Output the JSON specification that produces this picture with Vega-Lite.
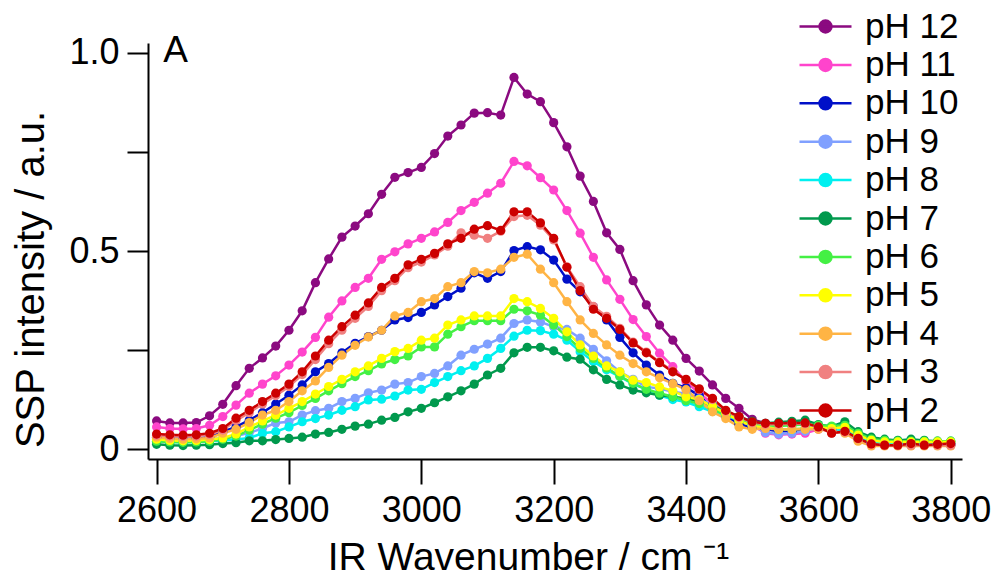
{
  "$schema": "https://vega.github.io/schema/vega-lite/v6.json",
  "width": 814,
  "height": 416,
  "autosize": {"type": "none"},
  "padding": {"left": 148, "top": 43, "right": 40, "bottom": 118},
  "background": "white",
  "config": {"view": {"stroke": null}, "font": "Liberation Sans"},
  "data": {"values": [
{"p":"pH 12","x":2600,"y":0.071},{"p":"pH 12","x":2620,"y":0.066},{"p":"pH 12","x":2640,"y":0.066},{"p":"pH 12","x":2660,"y":0.067},{"p":"pH 12","x":2680,"y":0.084},{"p":"pH 12","x":2700,"y":0.113},{"p":"pH 12","x":2720,"y":0.16},{"p":"pH 12","x":2740,"y":0.204},{"p":"pH 12","x":2760,"y":0.23},{"p":"pH 12","x":2780,"y":0.26},{"p":"pH 12","x":2800,"y":0.30},{"p":"pH 12","x":2820,"y":0.349},{"p":"pH 12","x":2840,"y":0.42},{"p":"pH 12","x":2860,"y":0.48},{"p":"pH 12","x":2880,"y":0.535},{"p":"pH 12","x":2900,"y":0.563},{"p":"pH 12","x":2920,"y":0.594},{"p":"pH 12","x":2940,"y":0.643},{"p":"pH 12","x":2960,"y":0.686},{"p":"pH 12","x":2980,"y":0.698},{"p":"pH 12","x":3000,"y":0.711},{"p":"pH 12","x":3020,"y":0.746},{"p":"pH 12","x":3040,"y":0.79},{"p":"pH 12","x":3060,"y":0.818},{"p":"pH 12","x":3080,"y":0.848},{"p":"pH 12","x":3100,"y":0.849},{"p":"pH 12","x":3120,"y":0.843},{"p":"pH 12","x":3140,"y":0.938},{"p":"pH 12","x":3160,"y":0.896},{"p":"pH 12","x":3180,"y":0.877},{"p":"pH 12","x":3200,"y":0.824},{"p":"pH 12","x":3220,"y":0.763},{"p":"pH 12","x":3240,"y":0.689},{"p":"pH 12","x":3260,"y":0.625},{"p":"pH 12","x":3280,"y":0.546},{"p":"pH 12","x":3300,"y":0.504},{"p":"pH 12","x":3320,"y":0.425},{"p":"pH 12","x":3340,"y":0.364},{"p":"pH 12","x":3360,"y":0.313},{"p":"pH 12","x":3380,"y":0.275},{"p":"pH 12","x":3400,"y":0.229},{"p":"pH 12","x":3420,"y":0.197},{"p":"pH 12","x":3440,"y":0.162},{"p":"pH 12","x":3460,"y":0.128},{"p":"pH 12","x":3480,"y":0.103},{"p":"pH 12","x":3500,"y":0.075},{"p":"pH 12","x":3520,"y":0.065},{"p":"pH 12","x":3540,"y":0.063},{"p":"pH 12","x":3560,"y":0.062},{"p":"pH 12","x":3580,"y":0.062},{"p":"pH 12","x":3600,"y":0.058},{"p":"pH 12","x":3620,"y":0.05},{"p":"pH 12","x":3640,"y":0.045},{"p":"pH 12","x":3660,"y":0.03},{"p":"pH 12","x":3680,"y":0.015},{"p":"pH 12","x":3700,"y":0.012},{"p":"pH 12","x":3720,"y":0.012},{"p":"pH 12","x":3740,"y":0.013},{"p":"pH 12","x":3760,"y":0.012},{"p":"pH 12","x":3780,"y":0.012},{"p":"pH 12","x":3800,"y":0.013},
{"p":"pH 11","x":2600,"y":0.056},{"p":"pH 11","x":2620,"y":0.052},{"p":"pH 11","x":2640,"y":0.051},{"p":"pH 11","x":2660,"y":0.052},{"p":"pH 11","x":2680,"y":0.06},{"p":"pH 11","x":2700,"y":0.082},{"p":"pH 11","x":2720,"y":0.111},{"p":"pH 11","x":2740,"y":0.141},{"p":"pH 11","x":2760,"y":0.164},{"p":"pH 11","x":2780,"y":0.185},{"p":"pH 11","x":2800,"y":0.212},{"p":"pH 11","x":2820,"y":0.245},{"p":"pH 11","x":2840,"y":0.282},{"p":"pH 11","x":2860,"y":0.333},{"p":"pH 11","x":2880,"y":0.374},{"p":"pH 11","x":2900,"y":0.408},{"p":"pH 11","x":2920,"y":0.431},{"p":"pH 11","x":2940,"y":0.479},{"p":"pH 11","x":2960,"y":0.498},{"p":"pH 11","x":2980,"y":0.518},{"p":"pH 11","x":3000,"y":0.532},{"p":"pH 11","x":3020,"y":0.548},{"p":"pH 11","x":3040,"y":0.572},{"p":"pH 11","x":3060,"y":0.602},{"p":"pH 11","x":3080,"y":0.623},{"p":"pH 11","x":3100,"y":0.646},{"p":"pH 11","x":3120,"y":0.671},{"p":"pH 11","x":3140,"y":0.726},{"p":"pH 11","x":3160,"y":0.715},{"p":"pH 11","x":3180,"y":0.685},{"p":"pH 11","x":3200,"y":0.654},{"p":"pH 11","x":3220,"y":0.602},{"p":"pH 11","x":3240,"y":0.545},{"p":"pH 11","x":3260,"y":0.484},{"p":"pH 11","x":3280,"y":0.427},{"p":"pH 11","x":3300,"y":0.378},{"p":"pH 11","x":3320,"y":0.327},{"p":"pH 11","x":3340,"y":0.284},{"p":"pH 11","x":3360,"y":0.242},{"p":"pH 11","x":3380,"y":0.208},{"p":"pH 11","x":3400,"y":0.17},{"p":"pH 11","x":3420,"y":0.141},{"p":"pH 11","x":3440,"y":0.115},{"p":"pH 11","x":3460,"y":0.094},{"p":"pH 11","x":3480,"y":0.077},{"p":"pH 11","x":3500,"y":0.06},{"p":"pH 11","x":3520,"y":0.04},{"p":"pH 11","x":3540,"y":0.036},{"p":"pH 11","x":3560,"y":0.038},{"p":"pH 11","x":3580,"y":0.04},{"p":"pH 11","x":3600,"y":0.05},{"p":"pH 11","x":3620,"y":0.048},{"p":"pH 11","x":3640,"y":0.045},{"p":"pH 11","x":3660,"y":0.028},{"p":"pH 11","x":3680,"y":0.015},{"p":"pH 11","x":3700,"y":0.012},{"p":"pH 11","x":3720,"y":0.012},{"p":"pH 11","x":3740,"y":0.012},{"p":"pH 11","x":3760,"y":0.012},{"p":"pH 11","x":3780,"y":0.012},{"p":"pH 11","x":3800,"y":0.012},
{"p":"pH 10","x":2600,"y":0.03},{"p":"pH 10","x":2620,"y":0.027},{"p":"pH 10","x":2640,"y":0.026},{"p":"pH 10","x":2660,"y":0.027},{"p":"pH 10","x":2680,"y":0.03},{"p":"pH 10","x":2700,"y":0.044},{"p":"pH 10","x":2720,"y":0.056},{"p":"pH 10","x":2740,"y":0.073},{"p":"pH 10","x":2760,"y":0.092},{"p":"pH 10","x":2780,"y":0.114},{"p":"pH 10","x":2800,"y":0.136},{"p":"pH 10","x":2820,"y":0.162},{"p":"pH 10","x":2840,"y":0.195},{"p":"pH 10","x":2860,"y":0.216},{"p":"pH 10","x":2880,"y":0.243},{"p":"pH 10","x":2900,"y":0.267},{"p":"pH 10","x":2920,"y":0.284},{"p":"pH 10","x":2940,"y":0.30},{"p":"pH 10","x":2960,"y":0.326},{"p":"pH 10","x":2980,"y":0.332},{"p":"pH 10","x":3000,"y":0.345},{"p":"pH 10","x":3020,"y":0.364},{"p":"pH 10","x":3040,"y":0.385},{"p":"pH 10","x":3060,"y":0.406},{"p":"pH 10","x":3080,"y":0.445},{"p":"pH 10","x":3100,"y":0.431},{"p":"pH 10","x":3120,"y":0.448},{"p":"pH 10","x":3140,"y":0.501},{"p":"pH 10","x":3160,"y":0.511},{"p":"pH 10","x":3180,"y":0.503},{"p":"pH 10","x":3200,"y":0.477},{"p":"pH 10","x":3220,"y":0.429},{"p":"pH 10","x":3240,"y":0.397},{"p":"pH 10","x":3260,"y":0.359},{"p":"pH 10","x":3280,"y":0.326},{"p":"pH 10","x":3300,"y":0.282},{"p":"pH 10","x":3320,"y":0.243},{"p":"pH 10","x":3340,"y":0.212},{"p":"pH 10","x":3360,"y":0.187},{"p":"pH 10","x":3380,"y":0.166},{"p":"pH 10","x":3400,"y":0.155},{"p":"pH 10","x":3420,"y":0.135},{"p":"pH 10","x":3440,"y":0.103},{"p":"pH 10","x":3460,"y":0.085},{"p":"pH 10","x":3480,"y":0.063},{"p":"pH 10","x":3500,"y":0.055},{"p":"pH 10","x":3520,"y":0.05},{"p":"pH 10","x":3540,"y":0.045},{"p":"pH 10","x":3560,"y":0.045},{"p":"pH 10","x":3580,"y":0.05},{"p":"pH 10","x":3600,"y":0.052},{"p":"pH 10","x":3620,"y":0.048},{"p":"pH 10","x":3640,"y":0.045},{"p":"pH 10","x":3660,"y":0.025},{"p":"pH 10","x":3680,"y":0.012},{"p":"pH 10","x":3700,"y":0.01},{"p":"pH 10","x":3720,"y":0.01},{"p":"pH 10","x":3740,"y":0.01},{"p":"pH 10","x":3760,"y":0.01},{"p":"pH 10","x":3780,"y":0.01},{"p":"pH 10","x":3800,"y":0.01},
{"p":"pH 9","x":2600,"y":0.026},{"p":"pH 9","x":2620,"y":0.024},{"p":"pH 9","x":2640,"y":0.023},{"p":"pH 9","x":2660,"y":0.024},{"p":"pH 9","x":2680,"y":0.025},{"p":"pH 9","x":2700,"y":0.028},{"p":"pH 9","x":2720,"y":0.033},{"p":"pH 9","x":2740,"y":0.041},{"p":"pH 9","x":2760,"y":0.052},{"p":"pH 9","x":2780,"y":0.066},{"p":"pH 9","x":2800,"y":0.069},{"p":"pH 9","x":2820,"y":0.086},{"p":"pH 9","x":2840,"y":0.097},{"p":"pH 9","x":2860,"y":0.103},{"p":"pH 9","x":2880,"y":0.12},{"p":"pH 9","x":2900,"y":0.128},{"p":"pH 9","x":2920,"y":0.142},{"p":"pH 9","x":2940,"y":0.149},{"p":"pH 9","x":2960,"y":0.164},{"p":"pH 9","x":2980,"y":0.168},{"p":"pH 9","x":3000,"y":0.183},{"p":"pH 9","x":3020,"y":0.191},{"p":"pH 9","x":3040,"y":0.21},{"p":"pH 9","x":3060,"y":0.237},{"p":"pH 9","x":3080,"y":0.252},{"p":"pH 9","x":3100,"y":0.265},{"p":"pH 9","x":3120,"y":0.28},{"p":"pH 9","x":3140,"y":0.317},{"p":"pH 9","x":3160,"y":0.326},{"p":"pH 9","x":3180,"y":0.321},{"p":"pH 9","x":3200,"y":0.309},{"p":"pH 9","x":3220,"y":0.302},{"p":"pH 9","x":3240,"y":0.28},{"p":"pH 9","x":3260,"y":0.252},{"p":"pH 9","x":3280,"y":0.223},{"p":"pH 9","x":3300,"y":0.195},{"p":"pH 9","x":3320,"y":0.176},{"p":"pH 9","x":3340,"y":0.157},{"p":"pH 9","x":3360,"y":0.153},{"p":"pH 9","x":3380,"y":0.145},{"p":"pH 9","x":3400,"y":0.14},{"p":"pH 9","x":3420,"y":0.127},{"p":"pH 9","x":3440,"y":0.11},{"p":"pH 9","x":3460,"y":0.095},{"p":"pH 9","x":3480,"y":0.075},{"p":"pH 9","x":3500,"y":0.06},{"p":"pH 9","x":3520,"y":0.042},{"p":"pH 9","x":3540,"y":0.038},{"p":"pH 9","x":3560,"y":0.04},{"p":"pH 9","x":3580,"y":0.045},{"p":"pH 9","x":3600,"y":0.055},{"p":"pH 9","x":3620,"y":0.05},{"p":"pH 9","x":3640,"y":0.045},{"p":"pH 9","x":3660,"y":0.028},{"p":"pH 9","x":3680,"y":0.015},{"p":"pH 9","x":3700,"y":0.012},{"p":"pH 9","x":3720,"y":0.012},{"p":"pH 9","x":3740,"y":0.012},{"p":"pH 9","x":3760,"y":0.012},{"p":"pH 9","x":3780,"y":0.012},{"p":"pH 9","x":3800,"y":0.012},
{"p":"pH 8","x":2600,"y":0.02},{"p":"pH 8","x":2620,"y":0.018},{"p":"pH 8","x":2640,"y":0.017},{"p":"pH 8","x":2660,"y":0.018},{"p":"pH 8","x":2680,"y":0.02},{"p":"pH 8","x":2700,"y":0.022},{"p":"pH 8","x":2720,"y":0.024},{"p":"pH 8","x":2740,"y":0.028},{"p":"pH 8","x":2760,"y":0.04},{"p":"pH 8","x":2780,"y":0.044},{"p":"pH 8","x":2800,"y":0.056},{"p":"pH 8","x":2820,"y":0.069},{"p":"pH 8","x":2840,"y":0.077},{"p":"pH 8","x":2860,"y":0.086},{"p":"pH 8","x":2880,"y":0.098},{"p":"pH 8","x":2900,"y":0.107},{"p":"pH 8","x":2920,"y":0.124},{"p":"pH 8","x":2940,"y":0.126},{"p":"pH 8","x":2960,"y":0.134},{"p":"pH 8","x":2980,"y":0.149},{"p":"pH 8","x":3000,"y":0.151},{"p":"pH 8","x":3020,"y":0.168},{"p":"pH 8","x":3040,"y":0.183},{"p":"pH 8","x":3060,"y":0.198},{"p":"pH 8","x":3080,"y":0.21},{"p":"pH 8","x":3100,"y":0.229},{"p":"pH 8","x":3120,"y":0.254},{"p":"pH 8","x":3140,"y":0.285},{"p":"pH 8","x":3160,"y":0.30},{"p":"pH 8","x":3180,"y":0.299},{"p":"pH 8","x":3200,"y":0.29},{"p":"pH 8","x":3220,"y":0.275},{"p":"pH 8","x":3240,"y":0.246},{"p":"pH 8","x":3260,"y":0.221},{"p":"pH 8","x":3280,"y":0.2},{"p":"pH 8","x":3300,"y":0.183},{"p":"pH 8","x":3320,"y":0.164},{"p":"pH 8","x":3340,"y":0.151},{"p":"pH 8","x":3360,"y":0.136},{"p":"pH 8","x":3380,"y":0.125},{"p":"pH 8","x":3400,"y":0.119},{"p":"pH 8","x":3420,"y":0.107},{"p":"pH 8","x":3440,"y":0.095},{"p":"pH 8","x":3460,"y":0.085},{"p":"pH 8","x":3480,"y":0.072},{"p":"pH 8","x":3500,"y":0.062},{"p":"pH 8","x":3520,"y":0.055},{"p":"pH 8","x":3540,"y":0.05},{"p":"pH 8","x":3560,"y":0.05},{"p":"pH 8","x":3580,"y":0.052},{"p":"pH 8","x":3600,"y":0.055},{"p":"pH 8","x":3620,"y":0.05},{"p":"pH 8","x":3640,"y":0.048},{"p":"pH 8","x":3660,"y":0.03},{"p":"pH 8","x":3680,"y":0.018},{"p":"pH 8","x":3700,"y":0.015},{"p":"pH 8","x":3720,"y":0.015},{"p":"pH 8","x":3740,"y":0.015},{"p":"pH 8","x":3760,"y":0.015},{"p":"pH 8","x":3780,"y":0.015},{"p":"pH 8","x":3800,"y":0.015},
{"p":"pH 7","x":2600,"y":0.012},{"p":"pH 7","x":2620,"y":0.01},{"p":"pH 7","x":2640,"y":0.009},{"p":"pH 7","x":2660,"y":0.01},{"p":"pH 7","x":2680,"y":0.011},{"p":"pH 7","x":2700,"y":0.014},{"p":"pH 7","x":2720,"y":0.016},{"p":"pH 7","x":2740,"y":0.021},{"p":"pH 7","x":2760,"y":0.021},{"p":"pH 7","x":2780,"y":0.024},{"p":"pH 7","x":2800,"y":0.027},{"p":"pH 7","x":2820,"y":0.03},{"p":"pH 7","x":2840,"y":0.038},{"p":"pH 7","x":2860,"y":0.042},{"p":"pH 7","x":2880,"y":0.05},{"p":"pH 7","x":2900,"y":0.058},{"p":"pH 7","x":2920,"y":0.063},{"p":"pH 7","x":2940,"y":0.073},{"p":"pH 7","x":2960,"y":0.08},{"p":"pH 7","x":2980,"y":0.094},{"p":"pH 7","x":3000,"y":0.103},{"p":"pH 7","x":3020,"y":0.117},{"p":"pH 7","x":3040,"y":0.132},{"p":"pH 7","x":3060,"y":0.147},{"p":"pH 7","x":3080,"y":0.164},{"p":"pH 7","x":3100,"y":0.187},{"p":"pH 7","x":3120,"y":0.204},{"p":"pH 7","x":3140,"y":0.243},{"p":"pH 7","x":3160,"y":0.257},{"p":"pH 7","x":3180,"y":0.257},{"p":"pH 7","x":3200,"y":0.248},{"p":"pH 7","x":3220,"y":0.232},{"p":"pH 7","x":3240,"y":0.227},{"p":"pH 7","x":3260,"y":0.2},{"p":"pH 7","x":3280,"y":0.176},{"p":"pH 7","x":3300,"y":0.162},{"p":"pH 7","x":3320,"y":0.149},{"p":"pH 7","x":3340,"y":0.142},{"p":"pH 7","x":3360,"y":0.136},{"p":"pH 7","x":3380,"y":0.132},{"p":"pH 7","x":3400,"y":0.128},{"p":"pH 7","x":3420,"y":0.12},{"p":"pH 7","x":3440,"y":0.11},{"p":"pH 7","x":3460,"y":0.095},{"p":"pH 7","x":3480,"y":0.082},{"p":"pH 7","x":3500,"y":0.07},{"p":"pH 7","x":3520,"y":0.065},{"p":"pH 7","x":3540,"y":0.068},{"p":"pH 7","x":3560,"y":0.07},{"p":"pH 7","x":3580,"y":0.073},{"p":"pH 7","x":3600,"y":0.062},{"p":"pH 7","x":3620,"y":0.057},{"p":"pH 7","x":3640,"y":0.069},{"p":"pH 7","x":3660,"y":0.044},{"p":"pH 7","x":3680,"y":0.03},{"p":"pH 7","x":3700,"y":0.025},{"p":"pH 7","x":3720,"y":0.022},{"p":"pH 7","x":3740,"y":0.025},{"p":"pH 7","x":3760,"y":0.022},{"p":"pH 7","x":3780,"y":0.02},{"p":"pH 7","x":3800,"y":0.02},
{"p":"pH 6","x":2600,"y":0.02},{"p":"pH 6","x":2620,"y":0.018},{"p":"pH 6","x":2640,"y":0.017},{"p":"pH 6","x":2660,"y":0.018},{"p":"pH 6","x":2680,"y":0.02},{"p":"pH 6","x":2700,"y":0.025},{"p":"pH 6","x":2720,"y":0.033},{"p":"pH 6","x":2740,"y":0.048},{"p":"pH 6","x":2760,"y":0.063},{"p":"pH 6","x":2780,"y":0.078},{"p":"pH 6","x":2800,"y":0.092},{"p":"pH 6","x":2820,"y":0.11},{"p":"pH 6","x":2840,"y":0.128},{"p":"pH 6","x":2860,"y":0.147},{"p":"pH 6","x":2880,"y":0.165},{"p":"pH 6","x":2900,"y":0.183},{"p":"pH 6","x":2920,"y":0.198},{"p":"pH 6","x":2940,"y":0.215},{"p":"pH 6","x":2960,"y":0.226},{"p":"pH 6","x":2980,"y":0.235},{"p":"pH 6","x":3000,"y":0.258},{"p":"pH 6","x":3020,"y":0.258},{"p":"pH 6","x":3040,"y":0.29},{"p":"pH 6","x":3060,"y":0.309},{"p":"pH 6","x":3080,"y":0.324},{"p":"pH 6","x":3100,"y":0.324},{"p":"pH 6","x":3120,"y":0.324},{"p":"pH 6","x":3140,"y":0.353},{"p":"pH 6","x":3160,"y":0.349},{"p":"pH 6","x":3180,"y":0.338},{"p":"pH 6","x":3200,"y":0.313},{"p":"pH 6","x":3220,"y":0.284},{"p":"pH 6","x":3240,"y":0.254},{"p":"pH 6","x":3260,"y":0.229},{"p":"pH 6","x":3280,"y":0.205},{"p":"pH 6","x":3300,"y":0.184},{"p":"pH 6","x":3320,"y":0.166},{"p":"pH 6","x":3340,"y":0.151},{"p":"pH 6","x":3360,"y":0.141},{"p":"pH 6","x":3380,"y":0.132},{"p":"pH 6","x":3400,"y":0.122},{"p":"pH 6","x":3420,"y":0.115},{"p":"pH 6","x":3440,"y":0.1},{"p":"pH 6","x":3460,"y":0.088},{"p":"pH 6","x":3480,"y":0.075},{"p":"pH 6","x":3500,"y":0.065},{"p":"pH 6","x":3520,"y":0.06},{"p":"pH 6","x":3540,"y":0.058},{"p":"pH 6","x":3560,"y":0.06},{"p":"pH 6","x":3580,"y":0.062},{"p":"pH 6","x":3600,"y":0.06},{"p":"pH 6","x":3620,"y":0.058},{"p":"pH 6","x":3640,"y":0.06},{"p":"pH 6","x":3660,"y":0.04},{"p":"pH 6","x":3680,"y":0.025},{"p":"pH 6","x":3700,"y":0.022},{"p":"pH 6","x":3720,"y":0.02},{"p":"pH 6","x":3740,"y":0.02},{"p":"pH 6","x":3760,"y":0.02},{"p":"pH 6","x":3780,"y":0.02},{"p":"pH 6","x":3800,"y":0.02},
{"p":"pH 5","x":2600,"y":0.025},{"p":"pH 5","x":2620,"y":0.022},{"p":"pH 5","x":2640,"y":0.021},{"p":"pH 5","x":2660,"y":0.022},{"p":"pH 5","x":2680,"y":0.024},{"p":"pH 5","x":2700,"y":0.028},{"p":"pH 5","x":2720,"y":0.038},{"p":"pH 5","x":2740,"y":0.056},{"p":"pH 5","x":2760,"y":0.071},{"p":"pH 5","x":2780,"y":0.086},{"p":"pH 5","x":2800,"y":0.103},{"p":"pH 5","x":2820,"y":0.12},{"p":"pH 5","x":2840,"y":0.139},{"p":"pH 5","x":2860,"y":0.158},{"p":"pH 5","x":2880,"y":0.176},{"p":"pH 5","x":2900,"y":0.195},{"p":"pH 5","x":2920,"y":0.21},{"p":"pH 5","x":2940,"y":0.229},{"p":"pH 5","x":2960,"y":0.246},{"p":"pH 5","x":2980,"y":0.254},{"p":"pH 5","x":3000,"y":0.275},{"p":"pH 5","x":3020,"y":0.28},{"p":"pH 5","x":3040,"y":0.313},{"p":"pH 5","x":3060,"y":0.326},{"p":"pH 5","x":3080,"y":0.336},{"p":"pH 5","x":3100,"y":0.336},{"p":"pH 5","x":3120,"y":0.336},{"p":"pH 5","x":3140,"y":0.38},{"p":"pH 5","x":3160,"y":0.372},{"p":"pH 5","x":3180,"y":0.355},{"p":"pH 5","x":3200,"y":0.33},{"p":"pH 5","x":3220,"y":0.296},{"p":"pH 5","x":3240,"y":0.263},{"p":"pH 5","x":3260,"y":0.235},{"p":"pH 5","x":3280,"y":0.21},{"p":"pH 5","x":3300,"y":0.195},{"p":"pH 5","x":3320,"y":0.174},{"p":"pH 5","x":3340,"y":0.168},{"p":"pH 5","x":3360,"y":0.157},{"p":"pH 5","x":3380,"y":0.147},{"p":"pH 5","x":3400,"y":0.132},{"p":"pH 5","x":3420,"y":0.125},{"p":"pH 5","x":3440,"y":0.108},{"p":"pH 5","x":3460,"y":0.09},{"p":"pH 5","x":3480,"y":0.072},{"p":"pH 5","x":3500,"y":0.058},{"p":"pH 5","x":3520,"y":0.055},{"p":"pH 5","x":3540,"y":0.05},{"p":"pH 5","x":3560,"y":0.05},{"p":"pH 5","x":3580,"y":0.052},{"p":"pH 5","x":3600,"y":0.055},{"p":"pH 5","x":3620,"y":0.052},{"p":"pH 5","x":3640,"y":0.055},{"p":"pH 5","x":3660,"y":0.035},{"p":"pH 5","x":3680,"y":0.022},{"p":"pH 5","x":3700,"y":0.018},{"p":"pH 5","x":3720,"y":0.018},{"p":"pH 5","x":3740,"y":0.018},{"p":"pH 5","x":3760,"y":0.018},{"p":"pH 5","x":3780,"y":0.018},{"p":"pH 5","x":3800,"y":0.018},
{"p":"pH 4","x":2600,"y":0.03},{"p":"pH 4","x":2620,"y":0.027},{"p":"pH 4","x":2640,"y":0.025},{"p":"pH 4","x":2660,"y":0.026},{"p":"pH 4","x":2680,"y":0.028},{"p":"pH 4","x":2700,"y":0.04},{"p":"pH 4","x":2720,"y":0.05},{"p":"pH 4","x":2740,"y":0.067},{"p":"pH 4","x":2760,"y":0.086},{"p":"pH 4","x":2780,"y":0.098},{"p":"pH 4","x":2800,"y":0.12},{"p":"pH 4","x":2820,"y":0.147},{"p":"pH 4","x":2840,"y":0.172},{"p":"pH 4","x":2860,"y":0.206},{"p":"pH 4","x":2880,"y":0.237},{"p":"pH 4","x":2900,"y":0.262},{"p":"pH 4","x":2920,"y":0.283},{"p":"pH 4","x":2940,"y":0.30},{"p":"pH 4","x":2960,"y":0.336},{"p":"pH 4","x":2980,"y":0.345},{"p":"pH 4","x":3000,"y":0.372},{"p":"pH 4","x":3020,"y":0.38},{"p":"pH 4","x":3040,"y":0.41},{"p":"pH 4","x":3060,"y":0.42},{"p":"pH 4","x":3080,"y":0.448},{"p":"pH 4","x":3100,"y":0.445},{"p":"pH 4","x":3120,"y":0.454},{"p":"pH 4","x":3140,"y":0.484},{"p":"pH 4","x":3160,"y":0.492},{"p":"pH 4","x":3180,"y":0.454},{"p":"pH 4","x":3200,"y":0.42},{"p":"pH 4","x":3220,"y":0.372},{"p":"pH 4","x":3240,"y":0.326},{"p":"pH 4","x":3260,"y":0.292},{"p":"pH 4","x":3280,"y":0.263},{"p":"pH 4","x":3300,"y":0.237},{"p":"pH 4","x":3320,"y":0.216},{"p":"pH 4","x":3340,"y":0.195},{"p":"pH 4","x":3360,"y":0.18},{"p":"pH 4","x":3380,"y":0.165},{"p":"pH 4","x":3400,"y":0.15},{"p":"pH 4","x":3420,"y":0.122},{"p":"pH 4","x":3440,"y":0.094},{"p":"pH 4","x":3460,"y":0.077},{"p":"pH 4","x":3480,"y":0.056},{"p":"pH 4","x":3500,"y":0.05},{"p":"pH 4","x":3520,"y":0.052},{"p":"pH 4","x":3540,"y":0.05},{"p":"pH 4","x":3560,"y":0.05},{"p":"pH 4","x":3580,"y":0.05},{"p":"pH 4","x":3600,"y":0.05},{"p":"pH 4","x":3620,"y":0.045},{"p":"pH 4","x":3640,"y":0.04},{"p":"pH 4","x":3660,"y":0.02},{"p":"pH 4","x":3680,"y":0.008},{"p":"pH 4","x":3700,"y":0.008},{"p":"pH 4","x":3720,"y":0.008},{"p":"pH 4","x":3740,"y":0.008},{"p":"pH 4","x":3760,"y":0.008},{"p":"pH 4","x":3780,"y":0.008},{"p":"pH 4","x":3800,"y":0.008},
{"p":"pH 3","x":2600,"y":0.035},{"p":"pH 3","x":2620,"y":0.033},{"p":"pH 3","x":2640,"y":0.032},{"p":"pH 3","x":2660,"y":0.033},{"p":"pH 3","x":2680,"y":0.037},{"p":"pH 3","x":2700,"y":0.048},{"p":"pH 3","x":2720,"y":0.072},{"p":"pH 3","x":2740,"y":0.092},{"p":"pH 3","x":2760,"y":0.114},{"p":"pH 3","x":2780,"y":0.135},{"p":"pH 3","x":2800,"y":0.158},{"p":"pH 3","x":2820,"y":0.188},{"p":"pH 3","x":2840,"y":0.226},{"p":"pH 3","x":2860,"y":0.266},{"p":"pH 3","x":2880,"y":0.30},{"p":"pH 3","x":2900,"y":0.33},{"p":"pH 3","x":2920,"y":0.36},{"p":"pH 3","x":2940,"y":0.40},{"p":"pH 3","x":2960,"y":0.425},{"p":"pH 3","x":2980,"y":0.458},{"p":"pH 3","x":3000,"y":0.472},{"p":"pH 3","x":3020,"y":0.49},{"p":"pH 3","x":3040,"y":0.512},{"p":"pH 3","x":3060,"y":0.546},{"p":"pH 3","x":3080,"y":0.54},{"p":"pH 3","x":3100,"y":0.532},{"p":"pH 3","x":3120,"y":0.55},{"p":"pH 3","x":3140,"y":0.587},{"p":"pH 3","x":3160,"y":0.59},{"p":"pH 3","x":3180,"y":0.565},{"p":"pH 3","x":3200,"y":0.528},{"p":"pH 3","x":3220,"y":0.46},{"p":"pH 3","x":3240,"y":0.41},{"p":"pH 3","x":3260,"y":0.36},{"p":"pH 3","x":3280,"y":0.335},{"p":"pH 3","x":3300,"y":0.305},{"p":"pH 3","x":3320,"y":0.27},{"p":"pH 3","x":3340,"y":0.245},{"p":"pH 3","x":3360,"y":0.22},{"p":"pH 3","x":3380,"y":0.197},{"p":"pH 3","x":3400,"y":0.175},{"p":"pH 3","x":3420,"y":0.15},{"p":"pH 3","x":3440,"y":0.125},{"p":"pH 3","x":3460,"y":0.096},{"p":"pH 3","x":3480,"y":0.08},{"p":"pH 3","x":3500,"y":0.067},{"p":"pH 3","x":3520,"y":0.063},{"p":"pH 3","x":3540,"y":0.063},{"p":"pH 3","x":3560,"y":0.064},{"p":"pH 3","x":3580,"y":0.064},{"p":"pH 3","x":3600,"y":0.055},{"p":"pH 3","x":3620,"y":0.04},{"p":"pH 3","x":3640,"y":0.043},{"p":"pH 3","x":3660,"y":0.026},{"p":"pH 3","x":3680,"y":0.012},{"p":"pH 3","x":3700,"y":0.01},{"p":"pH 3","x":3720,"y":0.01},{"p":"pH 3","x":3740,"y":0.01},{"p":"pH 3","x":3760,"y":0.01},{"p":"pH 3","x":3780,"y":0.01},{"p":"pH 3","x":3800,"y":0.01},
{"p":"pH 2","x":2600,"y":0.038},{"p":"pH 2","x":2620,"y":0.036},{"p":"pH 2","x":2640,"y":0.035},{"p":"pH 2","x":2660,"y":0.036},{"p":"pH 2","x":2680,"y":0.04},{"p":"pH 2","x":2700,"y":0.052},{"p":"pH 2","x":2720,"y":0.078},{"p":"pH 2","x":2740,"y":0.098},{"p":"pH 2","x":2760,"y":0.12},{"p":"pH 2","x":2780,"y":0.141},{"p":"pH 2","x":2800,"y":0.164},{"p":"pH 2","x":2820,"y":0.195},{"p":"pH 2","x":2840,"y":0.235},{"p":"pH 2","x":2860,"y":0.275},{"p":"pH 2","x":2880,"y":0.309},{"p":"pH 2","x":2900,"y":0.338},{"p":"pH 2","x":2920,"y":0.369},{"p":"pH 2","x":2940,"y":0.408},{"p":"pH 2","x":2960,"y":0.431},{"p":"pH 2","x":2980,"y":0.465},{"p":"pH 2","x":3000,"y":0.479},{"p":"pH 2","x":3020,"y":0.494},{"p":"pH 2","x":3040,"y":0.518},{"p":"pH 2","x":3060,"y":0.532},{"p":"pH 2","x":3080,"y":0.555},{"p":"pH 2","x":3100,"y":0.564},{"p":"pH 2","x":3120,"y":0.552},{"p":"pH 2","x":3140,"y":0.599},{"p":"pH 2","x":3160,"y":0.599},{"p":"pH 2","x":3180,"y":0.571},{"p":"pH 2","x":3200,"y":0.532},{"p":"pH 2","x":3220,"y":0.459},{"p":"pH 2","x":3240,"y":0.40},{"p":"pH 2","x":3260,"y":0.353},{"p":"pH 2","x":3280,"y":0.33},{"p":"pH 2","x":3300,"y":0.302},{"p":"pH 2","x":3320,"y":0.268},{"p":"pH 2","x":3340,"y":0.243},{"p":"pH 2","x":3360,"y":0.218},{"p":"pH 2","x":3380,"y":0.195},{"p":"pH 2","x":3400,"y":0.176},{"p":"pH 2","x":3420,"y":0.152},{"p":"pH 2","x":3440,"y":0.128},{"p":"pH 2","x":3460,"y":0.098},{"p":"pH 2","x":3480,"y":0.082},{"p":"pH 2","x":3500,"y":0.069},{"p":"pH 2","x":3520,"y":0.065},{"p":"pH 2","x":3540,"y":0.065},{"p":"pH 2","x":3560,"y":0.066},{"p":"pH 2","x":3580,"y":0.066},{"p":"pH 2","x":3600,"y":0.056},{"p":"pH 2","x":3620,"y":0.04},{"p":"pH 2","x":3640,"y":0.045},{"p":"pH 2","x":3660,"y":0.027},{"p":"pH 2","x":3680,"y":0.013},{"p":"pH 2","x":3700,"y":0.01},{"p":"pH 2","x":3720,"y":0.01},{"p":"pH 2","x":3740,"y":0.014},{"p":"pH 2","x":3760,"y":0.01},{"p":"pH 2","x":3780,"y":0.012},{"p":"pH 2","x":3800,"y":0.014}
  ]},
  "encoding": {
    "x": {"field": "x", "type": "quantitative",
      "scale": {"domain": [2587, 3817], "nice": false, "zero": false},
      "axis": {"values": [2600, 2800, 3000, 3200, 3400, 3600, 3800], "format": "d", "grid": false,
        "tickSize": 25, "tickWidth": 2, "tickColor": "black", "domainWidth": 2, "domainColor": "black",
        "labelFontSize": 36, "labelFont": "Liberation Sans", "labelColor": "black", "labelPadding": 9, "labelFlush": false, "labelOverlap": false,
        "title": "IR Wavenumber / cm ⁻¹", "titleFontSize": 39, "titleFont": "Liberation Sans", "titleFontWeight": "normal", "titleColor": "black",
        "titleX": 380, "titleY": 110, "titleBaseline": "alphabetic", "titleAlign": "center"}},
    "y": {"field": "y", "type": "quantitative",
      "scale": {"domain": [-0.025, 1.025], "nice": false, "zero": false},
      "axis": {"values": [0, 0.25, 0.5, 0.75, 1], "labelExpr": "datum.value == 0 ? '0' : datum.value == 0.5 ? '0.5' : datum.value == 1 ? '1.0' : ''", "grid": false,
        "tickSize": 21, "tickWidth": 2, "tickColor": "black", "domainWidth": 2, "domainColor": "black",
        "labelFontSize": 36, "labelFont": "Liberation Sans", "labelColor": "black", "labelPadding": 8, "labelOverlap": false, "labelFlush": false,
        "title": "SSP intensity / a.u.", "titleFontSize": 40, "titleFont": "Liberation Sans", "titleFontWeight": "normal", "titleColor": "black",
        "titleX": -105, "titleY": 236, "titleBaseline": "alphabetic", "titleAlign": "center", "titleAngle": 270}},
    "color": {"field": "p", "type": "nominal",
      "scale": {"domain": ["pH 12", "pH 11", "pH 10", "pH 9", "pH 8", "pH 7", "pH 6", "pH 5", "pH 4", "pH 3", "pH 2"],
        "range": ["#8b0a80", "#ff44cc", "#0010c8", "#80a0ff", "#00f0f0", "#00994d", "#44f044", "#ffff00", "#ffb444", "#f08080", "#cc0000"]}}
  },
  "layer": [
    {"mark": {"type": "line", "strokeWidth": 2.5},
     "encoding": {"color": {"field": "p", "type": "nominal",
       "legend": {"orient": "none", "legendX": 660, "legendY": -34, "title": null,
         "symbolType": "M-2,0L2,0M-0.46,0A0.46,0.46 0 1,0 0.46,0A0.46,0.46 0 1,0 -0.46,0Z",
         "symbolSize": 676, "symbolStrokeWidth": 2.5, "labelFontSize": 35, "labelFont": "Liberation Sans", "labelColor": "black",
         "labelOffset": 22, "rowPadding": 2.4, "padding": 0,
         "encode": {"symbols": {"update": {"fill": {"scale": "color", "field": "value"}, "stroke": {"scale": "color", "field": "value"}, "fillOpacity": {"value": 1}, "opacity": {"value": 1}}}}}}}},
    {"mark": {"type": "point", "filled": true, "size": 85, "opacity": 1}, "encoding": {"color": {"field": "p", "type": "nominal", "legend": null}}},
    {"transform": [{"filter": "datum.p == 'pH 12' && datum.x == 2600"}],
     "mark": {"type": "text", "text": "A", "align": "left", "baseline": "alphabetic", "fontSize": 37, "font": "Liberation Sans", "color": "black"},
     "encoding": {"x": {"datum": 2610}, "y": {"datum": 0.977}, "color": {"value": "black"}}}
  ]
}
